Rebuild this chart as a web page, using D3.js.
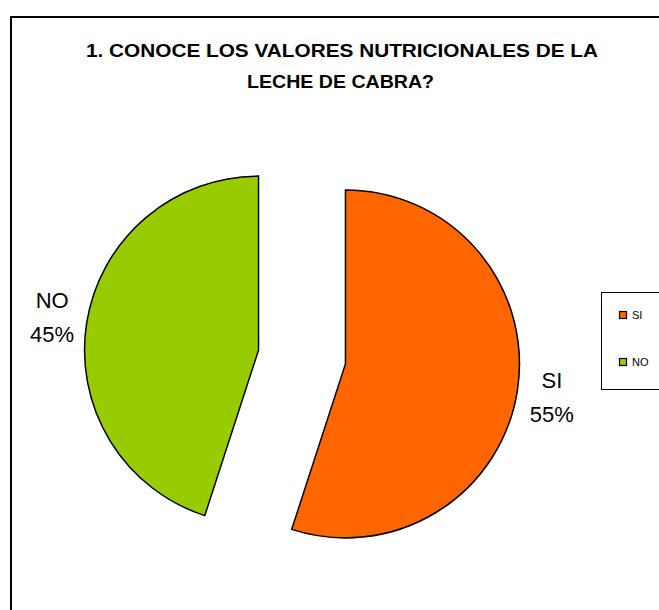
<!DOCTYPE html>
<html>
<head>
<meta charset="utf-8">
<script src="https://cdn.jsdelivr.net/npm/d3@7"></script>
<style>
  html, body { margin: 0; padding: 0; background: #fff; }
  svg { display: block; }
</style>
</head>
<body>
<svg id="chart"></svg>
<script>
// data
var categories = ["SI", "NO"];
var values = [55, 45];
var colors = ["#FF6600", "#99CC00"];
var titleLines = ["1. CONOCE LOS VALORES NUTRICIONALES DE LA", "LECHE DE CABRA?"];

var w = 659, h = 610;
var cx = 302, cy = 357, radius = 174, explode = 44, labelRadius = 253;
var font = "Liberation Sans, Arial, sans-serif";

var svg = d3.select("#chart").attr("width", w).attr("height", h);

svg.append("rect").attr("width", w).attr("height", h).attr("fill", "#fff");

// frame (runs off right and bottom edge)
svg.append("rect")
    .attr("x", 11).attr("y", 17)
    .attr("width", 720).attr("height", 720)
    .attr("fill", "none")
    .attr("stroke", "#000")
    .attr("stroke-width", 2);

// title
var titleSpec = [
    { x1: 86, x2: 598, y: 57 },
    { x1: 247, x2: 434, y: 88 }
];
titleLines.forEach(function(t, i) {
    var s = titleSpec[i];
    svg.append("text")
        .attr("x", s.x1)
        .attr("y", s.y)
        .attr("font-family", font)
        .attr("font-weight", "bold")
        .attr("font-size", "19px")
        .attr("textLength", s.x2 - s.x1)
        .attr("lengthAdjust", "spacingAndGlyphs")
        .attr("fill", "#000")
        .text(t);
});

// pie
var pie = d3.pie().sort(null).value(function(d) { return d; });
var arcs = pie(values);
var arc = d3.arc().innerRadius(0).outerRadius(radius);

var g = svg.append("g").attr("transform", "translate(" + cx + "," + cy + ")");

g.selectAll("path.slice")
    .data(arcs)
    .enter().append("path")
    .attr("class", "slice")
    .attr("transform", function(d) {
        var a = (d.startAngle + d.endAngle) / 2;
        return "translate(" + (Math.sin(a) * explode) + "," + (-Math.cos(a) * explode) + ")";
    })
    .attr("d", arc)
    .attr("fill", function(d, i) { return colors[i]; })
    .attr("stroke", "#000")
    .attr("stroke-width", 1.5)
    .attr("stroke-linejoin", "miter");

// data labels
var labels = g.selectAll("text.lbl")
    .data(arcs)
    .enter().append("text")
    .attr("class", "lbl")
    .attr("font-family", font)
    .attr("font-size", "22px")
    .attr("fill", "#000")
    .attr("text-anchor", "middle");

labels.each(function(d, i) {
    var a = (d.startAngle + d.endAngle) / 2,
        lx = Math.sin(a) * labelRadius,
        ly = -Math.cos(a) * labelRadius,
        t = d3.select(this),
        total = d3.sum(values);
    t.append("tspan").attr("x", lx).attr("y", ly - 9).text(categories[i]);
    t.append("tspan").attr("x", lx).attr("y", ly + 25)
        .text(Math.round(d.value / total * 100) + "%");
});

// legend
var legend = svg.append("g");
legend.append("rect")
    .attr("x", 601.5).attr("y", 292.5)
    .attr("width", 80).attr("height", 97)
    .attr("fill", "#fff")
    .attr("stroke", "#000")
    .attr("stroke-width", 1);

var legendY = d3.scalePoint().domain(categories).range([315, 362]);

var items = legend.selectAll("g.item")
    .data(categories)
    .enter().append("g")
    .attr("class", "item")
    .attr("transform", function(d) { return "translate(0," + legendY(d) + ")"; });

items.append("rect")
    .attr("x", 619.5).attr("y", -3.5)
    .attr("width", 7).attr("height", 7)
    .attr("fill", function(d, i) { return colors[i]; })
    .attr("stroke", "#000")
    .attr("stroke-width", 1.2);

items.append("text")
    .attr("x", 632)
    .attr("y", 4)
    .attr("font-family", font)
    .attr("font-size", "11px")
    .attr("fill", "#000")
    .text(function(d) { return d; });
</script>
</body>
</html>
